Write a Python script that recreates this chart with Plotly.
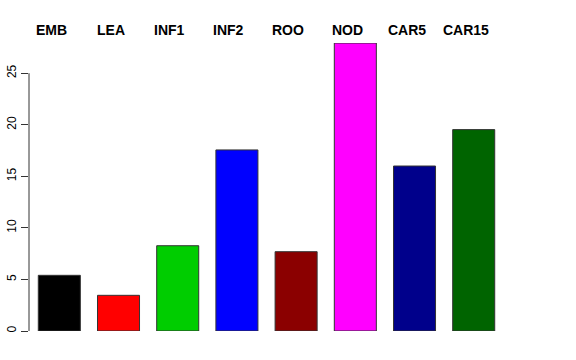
import plotly.graph_objects as go

categories = ["EMB", "LEA", "INF1", "INF2", "ROO", "NOD", "CAR5", "CAR15"]
values = [5.40, 3.46, 8.27, 17.56, 7.69, 27.93, 16.0, 19.53]
colors = ["#000000", "#FF0000", "#00CD00", "#0000FF", "#8B0000", "#FF00FF", "#00008B", "#006400"]
y_ticks = [0, 5, 10, 15, 20, 25]

fig = go.Figure()
fig.add_trace(go.Bar(
    x=categories, y=values,
    marker=dict(color=colors, line=dict(color="#333333", width=1)),
    width=0.71,
))

for c in categories:
    fig.add_annotation(x=c, xref="x", y=1, yref="paper", yshift=13, xshift=-8,
                       text="<b>%s</b>" % c, showarrow=False, yanchor="middle",
                       font=dict(size=14, color="black", family="Liberation Sans"))

fig.add_shape(type="line", xref="paper", x0=0, x1=0, yref="y", y0=0, y1=25,
              line=dict(color="#333333", width=1))

fig.update_layout(
    width=576, height=360,
    margin=dict(l=29, r=30, t=43, b=29),
    paper_bgcolor="white", plot_bgcolor="white",
    showlegend=False,
    font=dict(family="Liberation Sans", color="black"),
    xaxis=dict(type="category", range=[-0.512, 8.221], showticklabels=False,
               showline=False, showgrid=False, zeroline=False, ticks=""),
    yaxis=dict(range=[0, 27.93], tickvals=y_ticks, ticktext=[str(v) for v in y_ticks],
               ticks="outside", ticklen=7, tickcolor="#333333", tickangle=-90,
               tickfont=dict(size=12, color="black"), automargin=False,
               showline=False, showgrid=False, zeroline=False),
)

fig.write_html("out.html", config={"displayModeBar": False},
               post_script="document.body.style.margin='0';")
